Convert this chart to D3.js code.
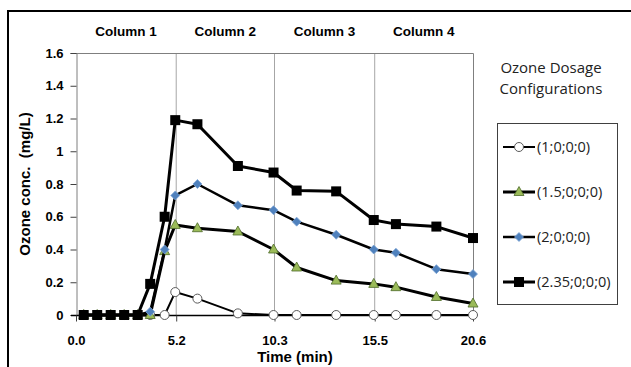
<!DOCTYPE html>
<html>
<head>
<meta charset="utf-8">
<script src="https://cdn.jsdelivr.net/npm/d3@7"></script>
<style>
  body { margin: 0; background: #fff; }
  svg { display: block; }
</style>
</head>
<body>
<div id="container"></div>
<script>
// time points (min) shared by all series
const times = [0.4, 1.1, 1.8, 2.5, 3.2, 3.85, 4.6, 5.15, 6.3, 8.4, 10.25, 11.45, 13.5, 15.45, 16.6, 18.7, 20.6];

// ozone concentration (mg/L) for each dosage configuration
const dose1 = [0, 0, 0, 0, 0, 0, 0, 0.14, 0.10, 0.01, 0, 0, 0, 0, 0, 0, 0];
const dose15 = [0, 0, 0, 0, 0, 0, 0.39, 0.55, 0.53, 0.51, 0.40, 0.29, 0.21, 0.19, 0.17, 0.11, 0.07];
const dose2 = [0, 0, 0, 0, 0, 0.02, 0.40, 0.73, 0.80, 0.67, 0.64, 0.57, 0.49, 0.40, 0.38, 0.28, 0.25];
const dose235 = [0, 0, 0, 0, 0, 0.19, 0.60, 1.19, 1.165, 0.91, 0.87, 0.76, 0.755, 0.58, 0.555, 0.54, 0.47];

const seriesNames = ["(1;0;0;0)", "(1.5;0;0;0)", "(2;0;0;0)", "(2.35;0;0;0)"];
const xTicks = [0, 5.2, 10.3, 15.5, 20.6];
const yTicks = [0, 0.2, 0.4, 0.6, 0.8, 1, 1.2, 1.4, 1.6];
const columnLabels = ["Column 1", "Column 2", "Column 3", "Column 4"];

const W = 631, H = 367;
const plot = { left: 76, right: 473, top: 53, bottom: 315 };

const svg = d3.select("#container").append("svg")
  .attr("width", W).attr("height", H);

// outer frame (cropped at right/bottom)
svg.append("path")
  .attr("d", `M${W + 5},11 H8 V${H + 5}`)
  .attr("fill", "none").attr("stroke", "#000").attr("stroke-width", 2);

const x = d3.scaleLinear().domain([0, 20.6]).range([plot.left, plot.right]);
const y = d3.scaleLinear().domain([0, 1.6]).range([plot.bottom, plot.top]);

const boldFont = "'Liberation Sans', Arial, sans-serif";
const softFont = "'Open Sans', Lato, sans-serif";

// vertical gridlines
svg.append("g").selectAll("line").data(xTicks.slice(1, -1)).join("line")
  .attr("x1", d => x(d)).attr("x2", d => x(d))
  .attr("y1", plot.top).attr("y2", plot.bottom)
  .attr("stroke", "#a6a6a6").attr("stroke-width", 1);

// plot border top + right
svg.append("path")
  .attr("d", `M${plot.left},${plot.top + 0.5} H${plot.right + 0.5} V${plot.bottom}`)
  .attr("fill", "none").attr("stroke", "#7f7f7f").attr("stroke-width", 1);

// y axis
const yAxis = svg.append("g")
  .attr("transform", `translate(${plot.left + 0.5},0)`)
  .call(d3.axisLeft(y).tickValues(yTicks).tickSize(6).tickPadding(7)
    .tickFormat(d => d === 0 || d === 1 ? d3.format("d")(d) : d3.format(".1f")(d)));
yAxis.select(".domain").attr("stroke", "#7f7f7f");
yAxis.selectAll(".tick line").attr("stroke", "#404040");
yAxis.selectAll("text").attr("font-family", boldFont).attr("font-weight", "bold")
  .attr("font-size", 13).attr("fill", "#000");

// x axis
const xAxis = svg.append("g")
  .attr("transform", `translate(0,${plot.bottom + 0.5})`)
  .call(d3.axisBottom(x).tickValues(xTicks).tickSize(6).tickPadding(14)
    .tickFormat(d3.format(".1f")));
xAxis.select(".domain").attr("stroke", "#000").attr("stroke-width", 1.5)
  .attr("d", `M${plot.left - 5},0H${plot.right}`);
xAxis.selectAll(".tick line").attr("stroke", "#404040");
xAxis.selectAll("text").attr("font-family", boldFont).attr("font-weight", "bold")
  .attr("font-size", 13).attr("fill", "#000");

// column labels between boundaries
svg.append("g").selectAll("text").data(columnLabels).join("text")
  .attr("x", (d, i) => (x(xTicks[i]) + x(xTicks[i + 1])) / 2)
  .attr("y", 35.5)
  .attr("text-anchor", "middle")
  .attr("font-family", boldFont).attr("font-weight", "bold").attr("font-size", 13.5)
  .text(d => d);

// axis titles
svg.append("text")
  .attr("transform", `translate(30,${(plot.top + plot.bottom) / 2}) rotate(-90)`)
  .attr("text-anchor", "middle")
  .attr("font-family", boldFont).attr("font-weight", "bold").attr("font-size", 15)
  .attr("xml:space", "preserve")
  .text("Ozone conc.  (mg/L)");

svg.append("text")
  .attr("x", 295).attr("y", 362)
  .attr("text-anchor", "middle")
  .attr("font-family", boldFont).attr("font-weight", "bold").attr("font-size", 15)
  .text("Time (min)");

// series config
const series = [
  { name: seriesNames[0], values: dose1, width: 2, shape: "circle" },
  { name: seriesNames[1], values: dose15, width: 3, shape: "triangle" },
  { name: seriesNames[2], values: dose2, width: 2.5, shape: "diamond" },
  { name: seriesNames[3], values: dose235, width: 3, shape: "square" }
];

function drawMarker(g, shape) {
  if (shape === "circle") {
    g.append("circle").attr("r", 4.5).attr("fill", "#fff")
      .attr("stroke", "#595959").attr("stroke-width", 1);
  } else if (shape === "triangle") {
    g.append("path").attr("d", "M0,-5.5L5,3.5L-5,3.5Z")
      .attr("fill", "#9bbb59").attr("stroke", "#4e6b2a").attr("stroke-width", 0.8);
  } else if (shape === "diamond") {
    g.append("path").attr("d", "M0,-4.5L4.5,0L0,4.5L-4.5,0Z")
      .attr("fill", "#4f81bd").attr("stroke", "#7fa6d6").attr("stroke-width", 0.8);
  } else {
    g.append("rect").attr("x", -5).attr("y", -5).attr("width", 10).attr("height", 10)
      .attr("fill", "#000");
  }
}

const line = d3.line().x(d => x(d[0])).y(d => y(d[1]));

series.forEach(s => {
  const pts = times.map((t, i) => [t, s.values[i]]);
  const g = svg.append("g");
  g.append("path").datum(pts).attr("d", line)
    .attr("fill", "none").attr("stroke", "#000").attr("stroke-width", s.width)
    .attr("stroke-linejoin", "round");
  g.selectAll("g.m").data(pts).join("g").attr("class", "m")
    .attr("transform", d => `translate(${x(d[0])},${y(d[1])})`)
    .each(function () { drawMarker(d3.select(this), s.shape); });
});

// legend
svg.append("text").attr("x", 551).attr("y", 73).attr("text-anchor", "middle")
  .attr("font-family", softFont).attr("font-size", 15).attr("fill", "#222")
  .text("Ozone Dosage");
svg.append("text").attr("x", 551).attr("y", 94).attr("text-anchor", "middle")
  .attr("font-family", softFont).attr("font-size", 15).attr("fill", "#222")
  .text("Configurations");

svg.append("rect").attr("x", 497.5).attr("y", 123.5).attr("width", 120).attr("height", 181)
  .attr("fill", "#fff").attr("stroke", "#404040").attr("stroke-width", 1);

const legendY = d3.scalePoint().domain(seriesNames).range([147, 282]);
series.forEach(s => {
  const ly = legendY(s.name);
  svg.append("line").attr("x1", 503).attr("x2", 535).attr("y1", ly).attr("y2", ly)
    .attr("stroke", "#000").attr("stroke-width", s.width);
  const mg = svg.append("g").attr("transform", `translate(519,${ly})`);
  drawMarker(mg, s.shape);
  svg.append("text").attr("x", 537).attr("y", ly + 5)
    .attr("font-family", softFont).attr("font-size", 14.5).attr("fill", "#222")
    .text(s.name);
});
</script>
</body>
</html>
